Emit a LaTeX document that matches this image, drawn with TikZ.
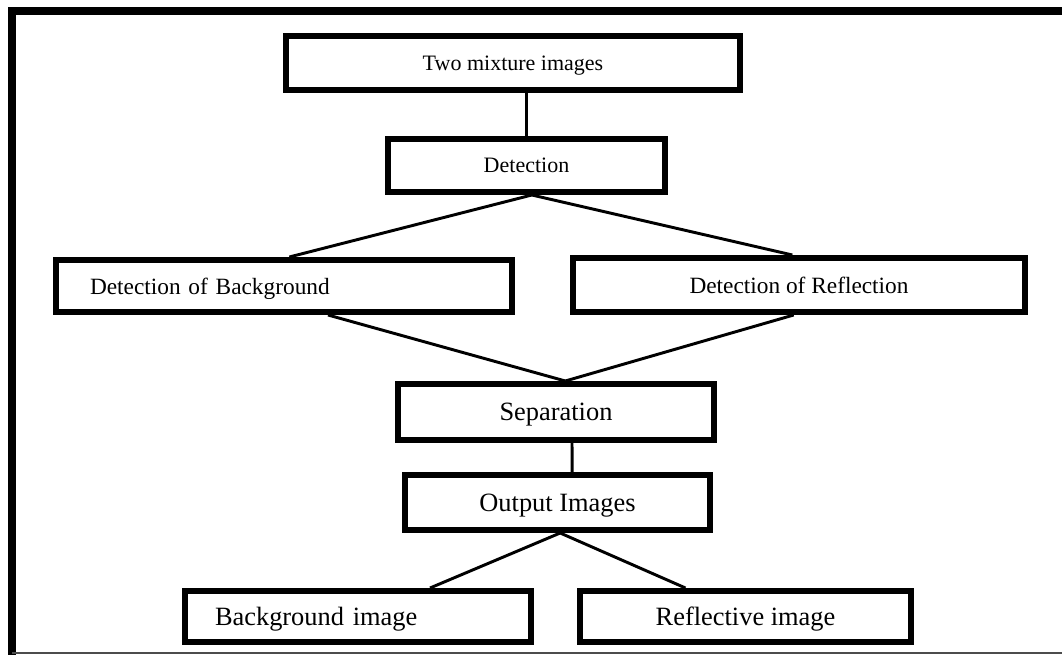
\documentclass[tikz,border=0pt]{standalone}
\usepackage{fontspec}
\setmainfont{Liberation Serif}
\usetikzlibrary{positioning}

\tikzset{
  box/.style={draw, line width=4.5pt, inner sep=0pt, anchor=center, text depth=0pt},
  smalltxt/.style={font=\fontsize{16.5}{19}\selectfont},
  midtxt/.style={font=\fontsize{17.5}{20}\selectfont},
  bigtxt/.style={font=\fontsize{19.8}{22}\selectfont},
  link/.style={line width=2.2pt}
}

\begin{document}
\begin{tikzpicture}[x=0.75pt, y=-0.75pt]
\useasboundingbox (0,0) rectangle (1062,655);

% frame of the page
\draw[line width=6pt] (1062,11) -- (12,11) -- (12,655);
\draw[line width=1pt, black!70] (12,653) -- (1062,653);

% boxes
\node[box, smalltxt, minimum width=340.5pt, minimum height=40.5pt] (mix) at (513,63) {Two mixture images};
\node[box, smalltxt, minimum width=207.75pt, minimum height=39.75pt] (det) at (526.5,165.5) {Detection};
\node[box, midtxt, minimum width=342pt, minimum height=39pt, inner xsep=25.5pt, text width=291pt, align=left] (dob) at (284,286) {Detection of Background};
\node[box, midtxt, minimum width=339pt, minimum height=40.5pt] (dor) at (799,285) {Detection of Reflection};
\node[box, bigtxt, minimum width=237pt, minimum height=42pt] (sep) at (556,412) {Separation};
\node[box, bigtxt, minimum width=228.75pt, minimum height=41.25pt] (out) at (557.5,502.5) {Output Images};
\node[box, bigtxt, minimum width=259.5pt, minimum height=38.25pt, inner xsep=22.5pt, text width=214.5pt, align=left] (bg) at (358,616.5) {Background image};
\node[box, bigtxt, minimum width=248.25pt, minimum height=38.25pt] (rim) at (745.5,616.5) {Reflective image};

% connectors
\draw[link] (mix.south -| det.north) -- (det.north);
\draw[link] ([xshift=4pt]det.south) -- ([xshift=4pt]dob.north);
\draw[link] ([xshift=4pt]det.south) -- ([xshift=-5pt]dor.north);
\draw[link] ([xshift=33pt]dob.south) -- ([xshift=7pt]sep.north);
\draw[link] ([xshift=-4pt]dor.south) -- ([xshift=7pt]sep.north);
\draw[link] ([xshift=12pt]sep.south) -- ([xshift=11pt]out.north);
\draw[link] ([xshift=2pt]out.south) -- ([xshift=54pt]bg.north);
\draw[link] ([xshift=2pt]out.south) -- ([xshift=-45pt]rim.north);

\end{tikzpicture}
\end{document}
